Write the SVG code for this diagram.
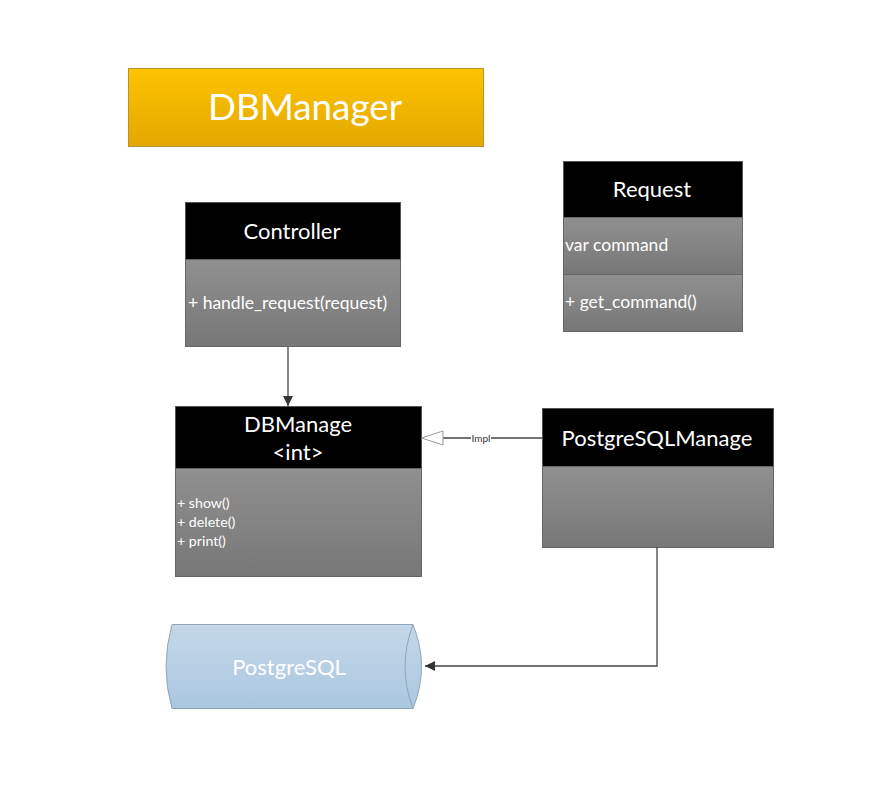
<svg xmlns="http://www.w3.org/2000/svg" width="873" height="794" viewBox="0 0 873 794">
<style>
text{font-family:Lato,"Open Sans","Liberation Sans",sans-serif;fill:#fff}
.hdr{fill:#000;stroke:#555;stroke-width:1}
.body{fill:url(#gray);stroke:#666;stroke-width:1}
.t20{font-size:22px;text-anchor:middle}
.t16{font-size:17.5px}
.t13{font-size:14.2px}
.line{fill:none;stroke:#444;stroke-width:1.3}
</style>
<defs>
<linearGradient id="gold" x1="0" y1="0" x2="0" y2="1"><stop offset="0" stop-color="#FFC300"/><stop offset="1" stop-color="#E2A800"/></linearGradient>
<linearGradient id="gray" x1="0" y1="0" x2="0" y2="1"><stop offset="0" stop-color="#909090"/><stop offset="1" stop-color="#777"/></linearGradient>
<linearGradient id="blue" x1="0" y1="0" x2="0" y2="1"><stop offset="0" stop-color="#C4D7E9"/><stop offset="1" stop-color="#AAC7E0"/></linearGradient>
<marker id="fill" viewBox="0 0 10 10" refX="10" refY="5" markerWidth="10" markerHeight="10" markerUnits="userSpaceOnUse" orient="auto"><path d="M0,0 L10,5 L0,10 z" fill="#333"/></marker>
</defs>
<g id="title">
<rect x="128.5" y="68.5" width="355" height="78" fill="url(#gold)" stroke="#B8922A"/>
<text x="305" y="120" font-size="36.8" text-anchor="middle">DBManager</text>
</g>
<g id="controller">
<rect class="hdr" x="185.5" y="202.5" width="215" height="57"/>
<rect class="body" x="185.5" y="259.5" width="215" height="87"/>
<text class="t20" x="292" y="239">Controller</text>
<text class="t16" x="188" y="309">+ handle_request(request)</text>
</g>
<g id="request">
<rect class="hdr" x="563.5" y="161.5" width="179" height="56"/>
<rect class="body" x="563.5" y="217.5" width="179" height="57"/>
<rect class="body" x="563.5" y="274.5" width="179" height="57"/>
<text class="t20" x="652" y="197">Request</text>
<text class="t16" x="565" y="251">var command</text>
<text class="t16" x="565" y="308">+ get_command()</text>
</g>
<g id="dbmanage">
<rect class="hdr" x="175.5" y="406.5" width="246" height="62"/>
<rect class="body" x="175.5" y="468.5" width="246" height="108"/>
<text class="t20" x="298" y="432">DBManage</text>
<text class="t20" x="298" y="460">&lt;int&gt;</text>
<text class="t13" x="177" y="508">+ show()</text>
<text class="t13" x="177" y="527">+ delete()</text>
<text class="t13" x="177" y="546">+ print()</text>
</g>
<g id="postgresqlmanage">
<rect class="hdr" x="542.5" y="408.5" width="231" height="58"/>
<rect class="body" x="542.5" y="466.5" width="231" height="81"/>
<text class="t20" x="657" y="446">PostgreSQLManage</text>
</g>
<g id="postgresql">
<path d="M172,624.5 L413,624.5 Q430,666.5 413,708.5 L172,708.5 Q160,666.5 172,624.5 z" fill="url(#blue)" stroke="#8FA6B8"/>
<path d="M413,624.5 Q397,666.5 413,708.5" fill="none" stroke="#8FA6B8"/>
<text class="t20" x="289" y="675">PostgreSQL</text>
</g>
<g id="connectors">
<line class="line" x1="288" y1="347" x2="288" y2="406" marker-end="url(#fill)"/>
<line class="line" x1="542" y1="438" x2="443" y2="438"/>
<path d="M421.5,438 L443,431 L443,445 z" fill="#fff" stroke="#999"/>
<rect x="471" y="432" width="20" height="12" fill="#fff"/>
<text x="481" y="441.5" font-size="10" text-anchor="middle" style="fill:#333">Impl</text>
<polyline class="line" points="657,547 657,666 425,666" marker-end="url(#fill)"/>
</g>
</svg>
